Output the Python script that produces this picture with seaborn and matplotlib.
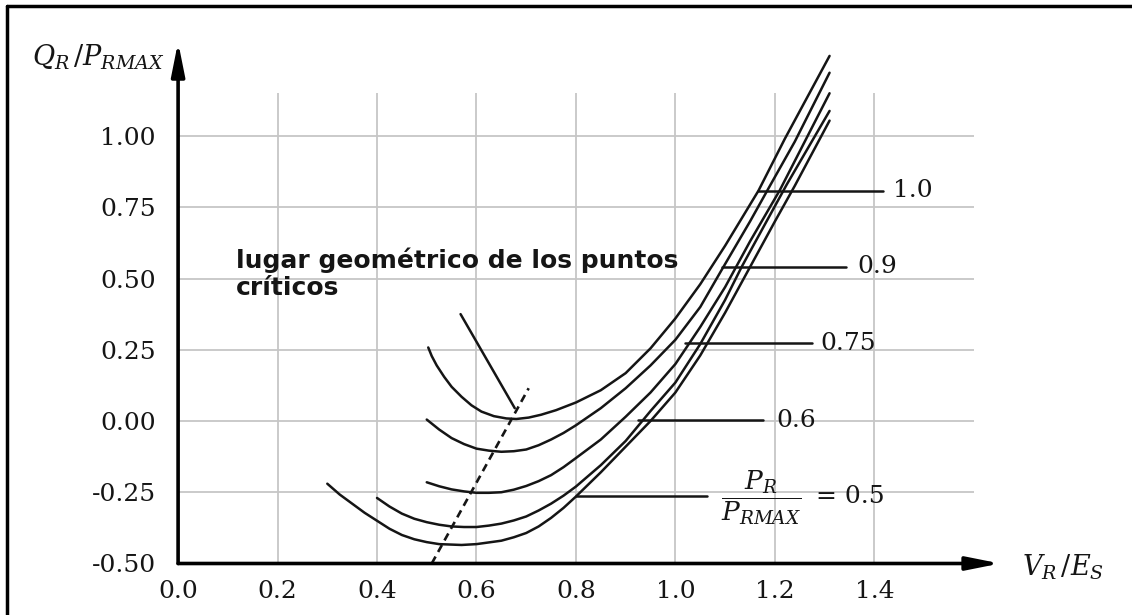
import numpy as np
import pandas as pd
import matplotlib
matplotlib.use('Agg')
import matplotlib.pyplot as plt
import seaborn as sns
from matplotlib.lines import Line2D

# curvas Q_R/P_RMAX vs V_R/E_S para cada P_R/P_RMAX
v_05 = [0.30, 0.325, 0.35, 0.375, 0.40, 0.425, 0.45, 0.475, 0.50, 0.525, 0.57, 0.60,
        0.65, 0.675, 0.70, 0.725, 0.75, 0.775, 0.80, 0.85, 0.90,
        0.95, 1.00, 1.05, 1.10, 1.15, 1.20, 1.24, 1.31]
q_05 = [-0.22, -0.258, -0.29, -0.322, -0.35, -0.378, -0.40, -0.415, -0.425, -0.432,
        -0.435, -0.432, -0.42, -0.408, -0.393, -0.37, -0.34, -0.305, -0.265,
        -0.18, -0.09, 0.0, 0.10, 0.23, 0.38, 0.54, 0.70, 0.825, 1.054]

v_06 = [0.40, 0.425, 0.45, 0.475, 0.50, 0.525, 0.55, 0.575, 0.60, 0.625, 0.65, 0.675,
        0.70, 0.725, 0.75, 0.775, 0.80, 0.85, 0.90, 0.95,
        1.00, 1.05, 1.10, 1.133, 1.18, 1.224, 1.31]
q_06 = [-0.27, -0.30, -0.325, -0.343, -0.355, -0.364, -0.37, -0.372, -0.372, -0.367,
        -0.36, -0.349, -0.335, -0.314, -0.29, -0.262, -0.23, -0.155,
        -0.07, 0.035, 0.135, 0.27, 0.425, 0.54, 0.69, 0.83, 1.088]

v_075 = [0.50, 0.525, 0.55, 0.575, 0.60, 0.625, 0.65, 0.675, 0.70, 0.725, 0.75, 0.775,
         0.80, 0.85, 0.90, 0.95, 1.00, 1.05, 1.10, 1.15, 1.21, 1.26, 1.31]
q_075 = [-0.215, -0.229, -0.24, -0.247, -0.252, -0.252, -0.25, -0.241, -0.228, -0.211,
         -0.19, -0.162, -0.13, -0.065, 0.015, 0.10, 0.20, 0.33, 0.47, 0.63, 0.81,
         0.98, 1.15]

v_09 = [0.50, 0.525, 0.55, 0.575, 0.60, 0.625, 0.65, 0.675, 0.70, 0.725, 0.75, 0.775,
        0.80, 0.85, 0.90, 0.95, 1.00, 1.05, 1.093, 1.15, 1.19, 1.24, 1.31]
q_09 = [0.005, -0.03, -0.06, -0.081, -0.097, -0.104, -0.108, -0.106, -0.10, -0.085,
        -0.065, -0.042, -0.015, 0.045, 0.115, 0.195, 0.285, 0.40, 0.53, 0.70, 0.825,
        0.98, 1.222]

v_10 = [0.503, 0.51, 0.52, 0.535, 0.55, 0.57, 0.59, 0.61, 0.635, 0.66, 0.68, 0.705,
        0.73, 0.76, 0.80, 0.85, 0.90, 0.95, 1.00, 1.05, 1.10, 1.167, 1.22, 1.31]
q_10 = [0.258, 0.228, 0.195, 0.155, 0.12, 0.085, 0.055, 0.033, 0.017, 0.009, 0.007,
        0.012, 0.022, 0.038, 0.065, 0.108, 0.168, 0.255, 0.36, 0.48, 0.615, 0.808,
        0.99, 1.281]

p_levels = ['0.5', '0.6', '0.75', '0.9', '1.0']

# lugar geometrico de los puntos criticos (recta a trazos) y flecha
crit_v = [0.51, 0.705]
crit_q = [-0.50, 0.115]
ptr_v = [0.568, 0.677]
ptr_q = [0.375, 0.045]

# lineas de referencia de las etiquetas
lead_v0 = [0.80, 0.925, 1.019, 1.093, 1.167]
lead_v1 = [1.063, 1.177, 1.274, 1.344, 1.418]
lead_q = [-0.262, 0.003, 0.272, 0.541, 0.808]
lab_v = [None, 1.204, 1.291, 1.365, 1.437]

x_ticks = [0.0, 0.2, 0.4, 0.6, 0.8, 1.0, 1.2, 1.4]
x_labels = ['0.0', '0.2', '0.4', '0.6', '0.8', '1.0', '1.2', '1.4']
y_ticks = [-0.50, -0.25, 0.0, 0.25, 0.50, 0.75, 1.00]
y_labels = ['-0.50', '-0.25', '0.00', '0.25', '0.50', '0.75', '1.00']

curves = [(v_05, q_05), (v_06, q_06), (v_075, q_075), (v_09, q_09), (v_10, q_10)]
df = pd.concat([pd.DataFrame({'V': v, 'Q': q, 'P': p})
                for (v, q), p in zip(curves, p_levels)], ignore_index=True)

sns.set_theme(style='white')
plt.rcParams['font.family'] = ['DejaVu Serif']
plt.rcParams['mathtext.fontset'] = 'dejavuserif'
plt.rcParams['text.color'] = 'black'

ink = '#151515'
W, H = 1132, 615
fig = plt.figure(figsize=(W / 100, H / 100), dpi=100)
ax = fig.add_axes([178.1 / W, 51.5 / H, 1 - 178.1 / W, 563.5 / H])
ax.set_xlim(0, (W - 178.1) / 497.3)
ax.set_ylim(-0.5, 421 / 285)
for s in ax.spines.values():
    s.set_visible(False)

grid_c = '#c6c6c6'
ax.hlines(y_ticks[1:], 0, 1.6, color=grid_c, lw=1.3, zorder=1)
ax.vlines(x_ticks[1:], -0.5, 1.15, color=grid_c, lw=1.3, zorder=1)

sns.lineplot(data=df, x='V', y='Q', units='P', estimator=None, sort=False,
             color=ink, lw=1.8, ax=ax, zorder=3, solid_joinstyle='round',
             solid_capstyle='round')

ax.plot(crit_v, crit_q, color=ink, lw=1.9, dashes=(3, 2), zorder=3)
ax.plot(ptr_v, ptr_q, color=ink, lw=1.8, zorder=3)

for v0, v1, q in zip(lead_v0, lead_v1, lead_q):
    ax.plot([v0, v1], [q, q], color=ink, lw=1.8, zorder=3)
for lv, q, t in zip(lab_v, lead_q, p_levels):
    if lv is not None:
        ax.text(lv, q, t, fontsize=18, va='center', ha='left', color=ink)
ax.text(1.172, -0.27, r'$\dfrac{P_R}{P_{RMAX}}$', fontsize=19, ha='center',
        va='center', color=ink)
ax.text(1.283, -0.265, '= 0.5', fontsize=18, ha='left', va='center', color=ink)

ax.text(0.117, 0.538, 'lugar geométrico de los puntos', fontsize=18,
        fontweight='bold', family=['DejaVu Sans'], va='baseline', color=ink)
ax.text(0.117, 0.442, 'críticos', fontsize=18, fontweight='bold',
        family=['DejaVu Sans'], va='baseline', color=ink)

# ejes con flecha
arr = dict(arrowstyle='-|>,head_length=1.0,head_width=0.2', lw=2.6,
           color='black', mutation_scale=20, shrinkA=0, shrinkB=0)
ax.annotate('', xy=(1.653, -0.5), xytext=(0, -0.5), arrowprops=arr,
            annotation_clip=False)
ax.annotate('', xy=(0, 1.33), xytext=(0, -0.5), arrowprops=arr,
            annotation_clip=False)

ax.set_xticks(x_ticks, labels=x_labels)
ax.set_yticks(y_ticks, labels=y_labels)
ax.tick_params(axis='both', direction='in', length=4, width=1.5, colors=ink,
               labelsize=18)
ax.tick_params(axis='x', pad=12)
ax.tick_params(axis='y', pad=16)
ax.set_xlabel('')
ax.set_ylabel('')

ax.text(-0.161, 1.277, r'$Q_R\,/P_{RMAX}$', fontsize=19.5, ha='center',
        va='center', color=ink)
ax.text(1.779, -0.512, r'$V_R\,/E_S$', fontsize=19.5, ha='center', va='center',
        color=ink)

# marco exterior
fig.add_artist(Line2D([7 / W, 7 / W], [0, 1 - 6 / H], color='black', lw=2.5,
                      transform=fig.transFigure))
fig.add_artist(Line2D([7 / W, 1], [1 - 6 / H, 1 - 6 / H], color='black', lw=2.5,
                      transform=fig.transFigure))

fig.savefig('out.png', dpi=100)
